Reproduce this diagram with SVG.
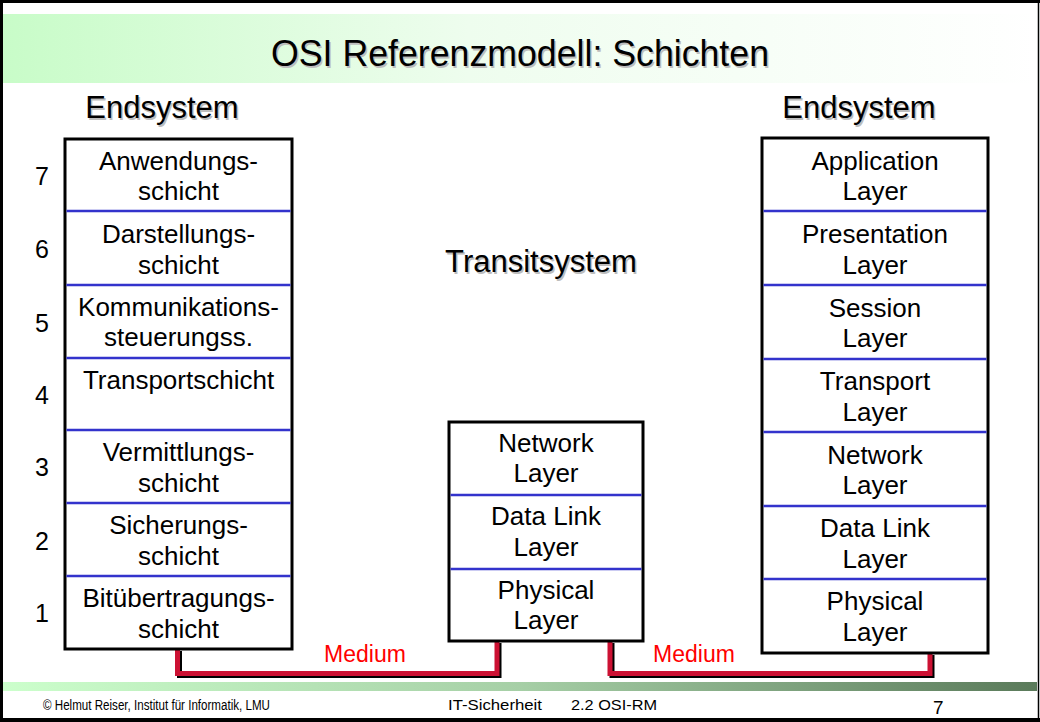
<svg xmlns="http://www.w3.org/2000/svg" width="1040" height="722" viewBox="0 0 1040 722">
<defs>
<linearGradient id="titleGrad" x1="0" y1="0" x2="1" y2="0">
<stop offset="0" stop-color="#c8fcc8"/>
<stop offset="0.45" stop-color="#eefdee"/>
<stop offset="1" stop-color="#ffffff"/>
</linearGradient>
<linearGradient id="footGrad" x1="0" y1="0" x2="1" y2="0">
<stop offset="0" stop-color="#ccffcc"/>
<stop offset="0.5" stop-color="#a6cfa6"/>
<stop offset="1" stop-color="#5a7a5a"/>
</linearGradient>
</defs>
<style>
text{font-family:"Liberation Sans",Arial,sans-serif;fill:#000}
.big{font-size:31px;text-anchor:middle}
.ttl{font-size:37px;text-anchor:middle}
.shadow{fill:#bdbdbd}
.box{fill:#fff;stroke:#000;stroke-width:3}
.div{stroke:#3333cc;stroke-width:2.5}
.lt{font-size:26px;text-anchor:middle}
.num{font-size:25px;text-anchor:middle}
.med{font-size:23px;fill:#ff0000;text-anchor:middle}
.wire{fill:none;stroke:#cc1133;stroke-width:5}
.wsh{fill:none;stroke:#000;stroke-width:5}
.foot{font-size:14px}
</style>
<rect x="0" y="0" width="1040" height="722" fill="#fff"/>
<rect x="3" y="14" width="1034" height="69" fill="url(#titleGrad)"/>
<rect x="3" y="682" width="1034" height="9" fill="url(#footGrad)"/>
<g id="frame" fill="none" stroke="#000">
<line x1="1.5" y1="0" x2="1.5" y2="722" stroke-width="3"/>
<line x1="0" y1="1.5" x2="1040" y2="1.5" stroke-width="3"/>
<line x1="1038.5" y1="0" x2="1038.5" y2="722" stroke-width="1.5"/>
<line x1="0" y1="720" x2="1040" y2="720" stroke-width="4"/>
</g>
<g id="title">
<text x="521.5" y="67.5" class="ttl shadow" textLength="498" lengthAdjust="spacingAndGlyphs">OSI Referenzmodell: Schichten</text>
<text x="520" y="66" class="ttl" textLength="498" lengthAdjust="spacingAndGlyphs">OSI Referenzmodell: Schichten</text>
</g>
<g id="labels">
<text x="163.5" y="119.5" class="big shadow">Endsystem</text>
<text x="162" y="118" class="big">Endsystem</text>
<text x="860.5" y="119.5" class="big shadow">Endsystem</text>
<text x="859" y="118" class="big">Endsystem</text>
<text x="542.5" y="273.5" class="big shadow">Transitsystem</text>
<text x="541" y="272" class="big">Transitsystem</text>
</g>
<g id="numbers">
<text x="42" y="185" class="num">7</text>
<text x="42" y="258" class="num">6</text>
<text x="42" y="332" class="num">5</text>
<text x="42" y="404" class="num">4</text>
<text x="42" y="476" class="num">3</text>
<text x="42" y="550" class="num">2</text>
<text x="42" y="622" class="num">1</text>
</g>
<g id="connectors">
<path class="wsh" d="M179.5,651 V675.5 H499 V643"/>
<path class="wire" d="M177.5,649 V673.5 H497 V641"/>
<path class="wsh" d="M612,643 V675.5 H932 V655"/>
<path class="wire" d="M610,641 V673.5 H930 V653"/>
</g>
<g id="medium-labels">
<text x="365" y="662" class="med">Medium</text>
<text x="694" y="662" class="med">Medium</text>
</g>
<g id="endsystem-left">
<rect class="box" x="65" y="139" width="227" height="510"/>
<line class="div" x1="66.5" y1="211" x2="290.5" y2="211"/>
<line class="div" x1="66.5" y1="285" x2="290.5" y2="285"/>
<line class="div" x1="66.5" y1="358" x2="290.5" y2="358"/>
<line class="div" x1="66.5" y1="430" x2="290.5" y2="430"/>
<line class="div" x1="66.5" y1="503" x2="290.5" y2="503"/>
<line class="div" x1="66.5" y1="576" x2="290.5" y2="576"/>
<text class="lt" x="178.5" y="170">Anwendungs-</text>
<text class="lt" x="178.5" y="200">schicht</text>
<text class="lt" x="178.5" y="243">Darstellungs-</text>
<text class="lt" x="178.5" y="274">schicht</text>
<text class="lt" x="178.5" y="316">Kommunikations-</text>
<text class="lt" x="178.5" y="346">steuerungss.</text>
<text class="lt" x="178.5" y="389">Transportschicht</text>
<text class="lt" x="178.5" y="461">Vermittlungs-</text>
<text class="lt" x="178.5" y="492">schicht</text>
<text class="lt" x="178.5" y="534">Sicherungs-</text>
<text class="lt" x="178.5" y="565">schicht</text>
<text class="lt" x="178.5" y="607">Bitübertragungs-</text>
<text class="lt" x="178.5" y="638">schicht</text>
</g>
<g id="transitsystem">
<rect class="box" x="449" y="422" width="194" height="219"/>
<line class="div" x1="450.5" y1="495" x2="641.5" y2="495"/>
<line class="div" x1="450.5" y1="569" x2="641.5" y2="569"/>
<text class="lt" x="546" y="452">Network</text>
<text class="lt" x="546" y="482">Layer</text>
<text class="lt" x="546" y="525">Data Link</text>
<text class="lt" x="546" y="556">Layer</text>
<text class="lt" x="546" y="599">Physical</text>
<text class="lt" x="546" y="629">Layer</text>
</g>
<g id="endsystem-right">
<rect class="box" x="762" y="138" width="226" height="515"/>
<line class="div" x1="763.5" y1="211" x2="986.5" y2="211"/>
<line class="div" x1="763.5" y1="285" x2="986.5" y2="285"/>
<line class="div" x1="763.5" y1="359" x2="986.5" y2="359"/>
<line class="div" x1="763.5" y1="432" x2="986.5" y2="432"/>
<line class="div" x1="763.5" y1="506" x2="986.5" y2="506"/>
<line class="div" x1="763.5" y1="579" x2="986.5" y2="579"/>
<text class="lt" x="875" y="170">Application</text>
<text class="lt" x="875" y="200">Layer</text>
<text class="lt" x="875" y="243">Presentation</text>
<text class="lt" x="875" y="274">Layer</text>
<text class="lt" x="875" y="317">Session</text>
<text class="lt" x="875" y="347">Layer</text>
<text class="lt" x="875" y="390">Transport</text>
<text class="lt" x="875" y="421">Layer</text>
<text class="lt" x="875" y="464">Network</text>
<text class="lt" x="875" y="494">Layer</text>
<text class="lt" x="875" y="537">Data Link</text>
<text class="lt" x="875" y="568">Layer</text>
<text class="lt" x="875" y="610">Physical</text>
<text class="lt" x="875" y="641">Layer</text>
</g>
<g id="footer">
<text class="foot" x="43" y="710" textLength="227" lengthAdjust="spacingAndGlyphs">© Helmut Reiser, Institut für Informatik, LMU</text>
<text class="foot" x="448" y="710" textLength="94" lengthAdjust="spacingAndGlyphs">IT-Sicherheit</text>
<text class="foot" x="571" y="710" textLength="86" lengthAdjust="spacingAndGlyphs">2.2 OSI-RM</text>
<text x="933" y="714" style="font-size:19px">7</text>
</g>
</svg>
